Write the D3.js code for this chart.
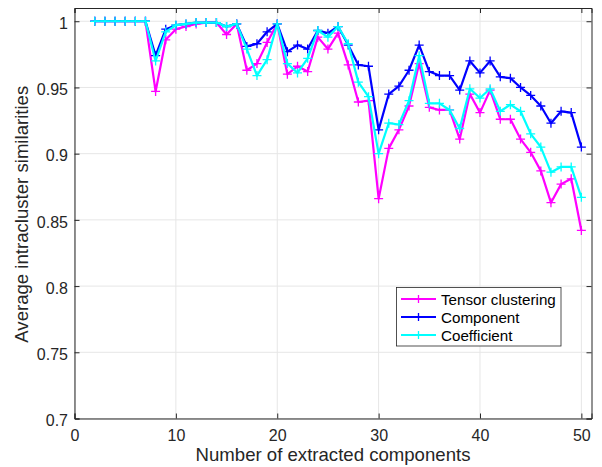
<!DOCTYPE html>
<html><head><meta charset="utf-8">
<script src="https://cdn.jsdelivr.net/npm/d3@7/dist/d3.min.js"></script>
<style>body{margin:0;background:#fff}svg{display:block}text{font-family:"Liberation Sans",Arial,sans-serif}</style>
</head><body>
<svg id="c" width="602" height="467"></svg>
<script>
const components = d3.range(2, 51);
const tensorClustering = [1,1,1,1,1,1,0.947,0.986,0.994,0.996,0.998,0.999,0.999,0.990,0.998,0.963,0.968,0.984,0.998,0.960,0.966,0.962,0.988,0.979,0.991,0.967,0.939,0.940,0.866,0.904,0.918,0.936,0.968,0.935,0.933,0.933,0.911,0.945,0.931,0.948,0.926,0.926,0.911,0.901,0.887,0.863,0.877,0.881,0.842];
const componentSeries = [1,1,1,1,1,1,0.974,0.994,0.997,0.998,0.999,0.999,0.999,0.996,0.998,0.981,0.983,0.992,0.998,0.977,0.982,0.979,0.993,0.991,0.996,0.982,0.967,0.966,0.918,0.945,0.951,0.963,0.982,0.962,0.959,0.959,0.948,0.970,0.961,0.970,0.958,0.957,0.950,0.944,0.936,0.923,0.932,0.931,0.905];
const coefficientSeries = [1,1,1,1,1,1,0.970,0.992,0.997,0.998,0.999,0.999,0.999,0.996,0.998,0.979,0.959,0.971,0.998,0.968,0.961,0.972,0.993,0.988,0.996,0.983,0.954,0.943,0.900,0.923,0.922,0.940,0.974,0.938,0.938,0.933,0.919,0.949,0.942,0.949,0.932,0.937,0.932,0.915,0.905,0.886,0.890,0.890,0.867];
const xTicks = [0,10,20,30,40,50];
const yTicks = [0.7,0.75,0.8,0.85,0.9,0.95,1];
const seriesNames = ["Tensor clustering","Component","Coefficient"];
const seriesColors = ["#ff00ff","#0000ff","#00ffff"];
const seriesData = [tensorClustering, componentSeries, coefficientSeries];

const svg = d3.select("#c");
const L=74.5, R=591.5, T=8, B=418.5;
const x = d3.scaleLinear().domain([0,51]).range([L,R]);
const y = d3.scaleLinear().domain([0.7,1.01]).range([B,T]);

// grid
svg.append("g").selectAll("line").data(xTicks).join("line")
  .attr("x1",d=>x(d)).attr("x2",d=>x(d)).attr("y1",T).attr("y2",B)
  .attr("stroke","#e6e6e6").attr("stroke-width",1);
svg.append("g").selectAll("line").data(yTicks).join("line")
  .attr("y1",d=>y(d)).attr("y2",d=>y(d)).attr("x1",L).attr("x2",R)
  .attr("stroke","#e6e6e6").attr("stroke-width",1);

// axes
const fmt = d=>d3.format("")(+d.toFixed(2));
const ax = svg.append("g").attr("transform",`translate(0,${B})`)
  .call(d3.axisBottom(x).tickValues(xTicks).tickSize(-5).tickPadding(11).tickFormat(d3.format("d")));
const ay = svg.append("g").attr("transform",`translate(${L},0)`)
  .call(d3.axisLeft(y).tickValues(yTicks).tickSize(-5).tickPadding(6.5).tickFormat(fmt));
ay.selectAll("text").attr("dy","0.45em");
const axT = svg.append("g").attr("transform",`translate(0,${T})`)
  .call(d3.axisTop(x).tickValues(xTicks).tickSize(-5).tickFormat(""));
const ayR = svg.append("g").attr("transform",`translate(${R},0)`)
  .call(d3.axisRight(y).tickValues(yTicks).tickSize(-5).tickFormat(""));
[ax,ay,axT,ayR].forEach(g=>{
  g.selectAll("path").attr("stroke","#262626").attr("stroke-width",1);
  g.selectAll("line").attr("stroke","#262626");
  g.selectAll("text").attr("fill","#262626").style("font-size","16px");
});

// series
const line = d3.line().x((d,i)=>x(components[i])).y(d=>y(d));
seriesData.forEach((s,k)=>{
  const g = svg.append("g");
  g.append("path").datum(s).attr("d",line).attr("fill","none")
    .attr("stroke",seriesColors[k]).attr("stroke-width",2.2).attr("stroke-linejoin","round");
  g.selectAll("path.m").data(s).join("path").attr("class","m")
    .attr("d",(d,i)=>{const cx=x(components[i]), cy=y(d); return `M${cx-4.5},${cy}H${cx+4.5}M${cx},${cy-4.5}V${cy+4.5}`;})
    .attr("stroke",seriesColors[k]).attr("stroke-width",1.3);
});

// titles
svg.append("text").attr("x",333).attr("y",461).attr("text-anchor","middle")
  .attr("fill","#262626").style("font-size","18.6px").text("Number of extracted components");
svg.append("text").attr("transform",`translate(28,${(T+B)/2+1}) rotate(-90)`).attr("text-anchor","middle")
  .attr("fill","#262626").style("font-size","18.6px").text("Average intracluster similarities");

// legend
const lg = svg.append("g");
lg.append("rect").attr("x",396.5).attr("y",287.5).attr("width",164.5).attr("height",58.5)
  .attr("fill","#fff").attr("stroke","#262626").attr("stroke-width",0.8);
seriesNames.forEach((n,k)=>{
  const yy = 299 + k*18;
  lg.append("line").attr("x1",401).attr("x2",436).attr("y1",yy).attr("y2",yy)
    .attr("stroke",seriesColors[k]).attr("stroke-width",2.2);
  lg.append("path").attr("d",`M414.5,${yy}H422.5M418.5,${yy-4}V${yy+4}`)
    .attr("stroke",seriesColors[k]).attr("stroke-width",1.3);
  lg.append("text").attr("x",441).attr("y",yy+5.5).attr("fill","#000").style("font-size","15.2px").text(n);
});
</script>
</body></html>
